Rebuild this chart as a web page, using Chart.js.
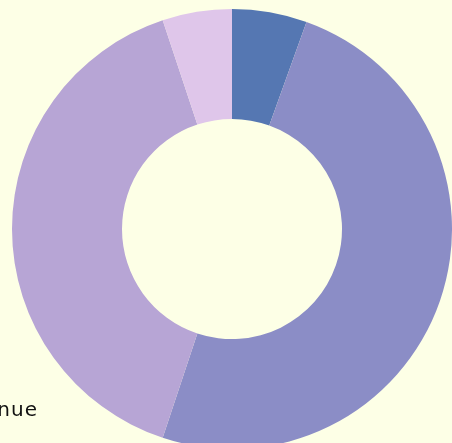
<!DOCTYPE html>
<html>
<head>
<meta charset="utf-8">
<script src="https://cdn.jsdelivr.net/npm/chart.js@4/dist/chart.umd.min.js"></script>
<style>
  html, body { margin: 0; padding: 0; width: 452px; height: 443px; overflow: hidden; background: #fdffe6; }
  #wrap { position: absolute; left: 12px; top: 9px; width: 440px; height: 440px; }
  #label { position: absolute; right: 414px; top: 397px; white-space: nowrap;
           font-family: "DejaVu Sans", sans-serif; font-size: 20px; letter-spacing: 1px; color: #111; }
</style>
</head>
<body>
<div id="wrap"><canvas id="donut"></canvas></div>
<div id="label">Revenue</div>
<script>
// values, clockwise from 12 o'clock
const labels = ['A', 'B', 'C', 'D'];
const values = [5.5, 49.6, 39.8, 5.1];
const colours = ['#5577b2', '#8b8dc6', '#b7a5d5', '#dfc6ea'];

const ctx = document.getElementById('donut').getContext('2d');
new Chart(ctx, {
  type: 'doughnut',
  data: {
    labels: labels,
    datasets: [{
      data: values,
      backgroundColor: colours,
      borderWidth: 0,
    }],
  },
  options: {
    responsive: true,
    maintainAspectRatio: false,
    animation: false,
    cutout: '50%',
    layout: { padding: 0 },
    plugins: {
      legend: { display: false },
      tooltip: { enabled: false },
    },
  },
});
</script>
</body>
</html>
